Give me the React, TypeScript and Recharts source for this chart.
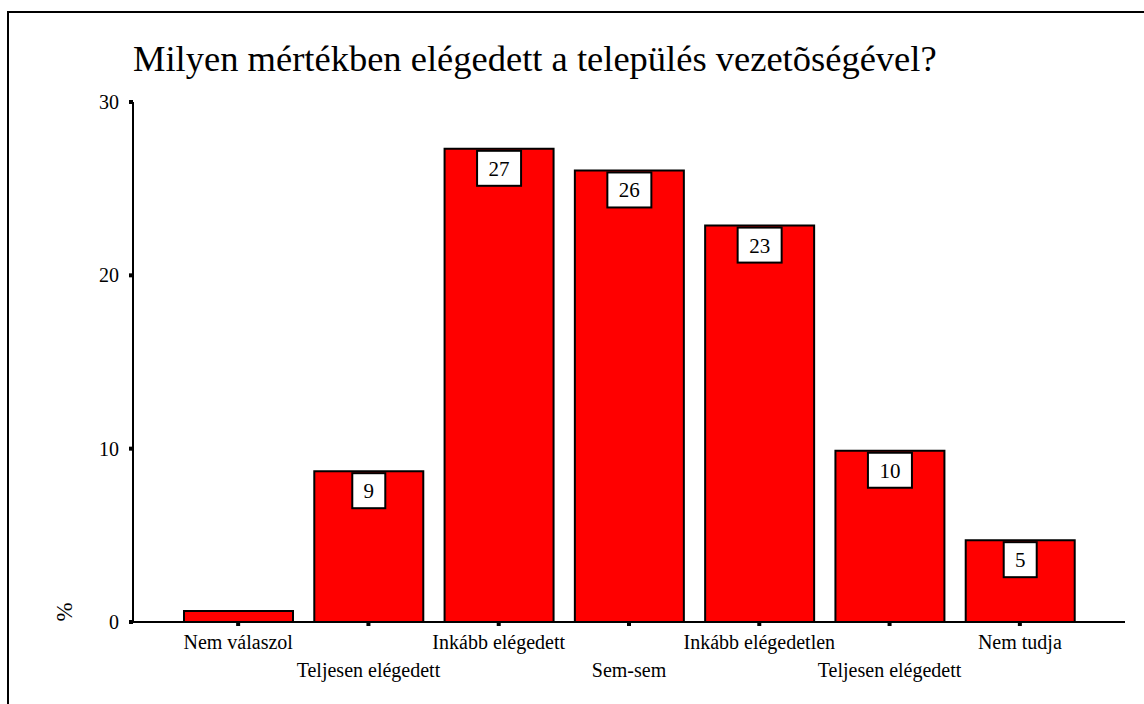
import React from 'react';
import { BarChart, Bar, XAxis, YAxis, LabelList } from 'recharts';

const categories = [
  'Nem válaszol',
  'Teljesen elégedett',
  'Inkább elégedett',
  'Sem-sem',
  'Inkább elégedetlen',
  'Teljesen elégedett ',
  'Nem tudja',
];
const percents = [0.64, 8.7, 27.3, 26.05, 22.87, 9.88, 4.72];
const yTicks = [0, 10, 20, 30];

const chartData = categories.map((name, i) => ({ name, pct: percents[i] }));

const FONT = '"Liberation Serif", "Times New Roman", serif';

const XTick = (props: any) => {
  const { x, y, payload } = props;
  const idx = payload?.index ?? props.index ?? 0;
  const dy = idx % 2 === 0 ? 23 : 51;
  return (
    <text x={x} y={y + dy} textAnchor="middle" style={{ fontFamily: FONT }} fontSize={20} fill="#000">
      {String(payload.value).trim()}
    </text>
  );
};

// white value box hanging under the bar top (SPSS style)
const ValueBox = (props: any) => {
  const { x, y, width, height, value } = props;
  if (height < 40) return null;
  const txt = String(Math.round(value));
  const w = txt.length > 1 ? 44 : 33;
  const cx = x + width / 2;
  return (
    <g>
      <rect x={cx - w / 2} y={y + 2} width={w} height={35} fill="#fff" stroke="#000" strokeWidth={2} />
      <text x={cx} y={y + 27} textAnchor="middle" style={{ fontFamily: FONT }} fontSize={21} fill="#000">
        {txt}
      </text>
    </g>
  );
};

const App: React.FC = () => {
  return (
    <div style={{ position: 'absolute', left: 0, top: 0, width: 1144, height: 704, overflow: 'hidden', background: '#fff' }}>
      <div
        style={{
          position: 'absolute',
          left: 7,
          top: 11,
          width: 1300,
          height: 900,
          border: '2px solid #000',
          boxSizing: 'border-box',
        }}
      />
      <div
        style={{
          position: 'absolute',
          left: 133,
          top: 41,
          fontFamily: FONT,
          fontSize: 36.5,
          lineHeight: '36px',
          whiteSpace: 'nowrap',
          color: '#000',
        }}
      >
        Milyen mértékben elégedett a település vezetõségével?
      </div>
      <div style={{ position: 'absolute', left: 0, top: 0 }}>
        <BarChart
          width={1144}
          height={704}
          data={chartData}
          margin={{ top: 102, right: 19, bottom: 22, left: 73 }}
        >
          <XAxis
            dataKey="name"
            height={60}
            padding={{ left: 40, right: 40 }}
            axisLine={{ stroke: '#000', strokeWidth: 2 }}
            tickLine={{ stroke: '#000', strokeWidth: 4 }}
            tickSize={4}
            tickMargin={0}
            interval={0}
            tick={<XTick />}
          />
          <YAxis
            width={60}
            domain={[0, 30]}
            ticks={yTicks}
            axisLine={{ stroke: '#000', strokeWidth: 2 }}
            tickLine={{ stroke: '#000', strokeWidth: 4 }}
            tickSize={4}
            tickMargin={10}
            tick={{ fontFamily: FONT, fontSize: 20, fill: '#000' }}
          />
          <Bar dataKey="pct" fill="#ff0000" stroke="#000" strokeWidth={2} barSize={109} isAnimationActive={false}>
            <LabelList dataKey="pct" content={<ValueBox />} />
          </Bar>
        </BarChart>
      </div>
      <svg style={{ position: 'absolute', left: 0, top: 0 }} width={1144} height={704} pointerEvents="none">
        <text
          x={0}
          y={0}
          transform="translate(72 612) rotate(-90)"
          textAnchor="middle"
          style={{ fontFamily: FONT }}
          fontSize={23}
          fill="#000"
        >
          %
        </text>
      </svg>
    </div>
  );
};

export default App;
